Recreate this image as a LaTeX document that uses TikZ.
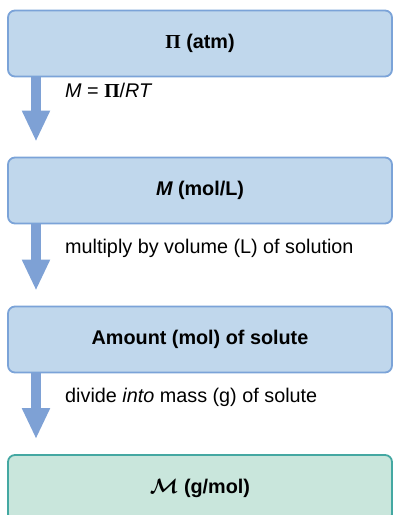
\documentclass[tikz,border=0pt]{standalone}
\usepackage{bm}
\usepackage{fontspec}
\setmainfont{Liberation Sans}
\newfontfamily\greekserif{Liberation Serif}
\usetikzlibrary{arrows.meta}
\definecolor{boxfill}{HTML}{C0D7EC}
\definecolor{boxline}{HTML}{7BA3D8}
\definecolor{flowblue}{HTML}{7EA1D5}
\definecolor{endfill}{HTML}{C9E6DC}
\definecolor{endline}{HTML}{44A8A2}
\newcommand{\osmP}{{\greekserif\bfseries\upshape Π}}
\begin{document}
\begin{tikzpicture}[x=1pt, y=-1pt,
    stepbox/.style={draw=boxline, fill=boxfill, line width=1.8pt, rounded corners=7pt,
        minimum width=384pt, minimum height=66pt, font=\bfseries\fontsize{19.8}{22}\selectfont},
    endbox/.style={stepbox, draw=endline, fill=endfill},
    flow/.style={draw=flowblue, line width=10pt, -{Triangle[width=26pt, length=31pt]}, shorten >=15pt},
    note/.style={anchor=base west, inner sep=0pt, font=\fontsize{19.8}{22}\selectfont}]
    \useasboundingbox (0, 0) rectangle (394, 515);
    \node[stepbox] (pressure) at (200, 43.5) {\osmP\ (atm)};
    \node[stepbox] (molarity) at (200, 190.5) {\itshape M\upshape\ (mol/L)};
    \node[stepbox] (amount) at (200, 339.5) {Amount (mol) of solute};
    \node[endbox] (molarmass) at (200, 488) {$\bm{\mathcal{M}}$ (g/mol)};
    \coordinate (ax) at (36, 0);
    \draw[flow] (pressure.south -| ax) -- (molarity.north -| ax);
    \draw[flow] (molarity.south -| ax) -- (amount.north -| ax);
    \draw[flow] (amount.south -| ax) -- (molarmass.north -| ax);
    \node[note] (rule1) at (65, 97) {\itshape M \upshape = \osmP/\itshape RT};
    \node[note] (rule2) at (65, 253) {multiply by volume (L) of solution};
    \node[note] (rule3) at (65, 402) {divide \textit{into} mass (g) of solute};
\end{tikzpicture}
\end{document}
